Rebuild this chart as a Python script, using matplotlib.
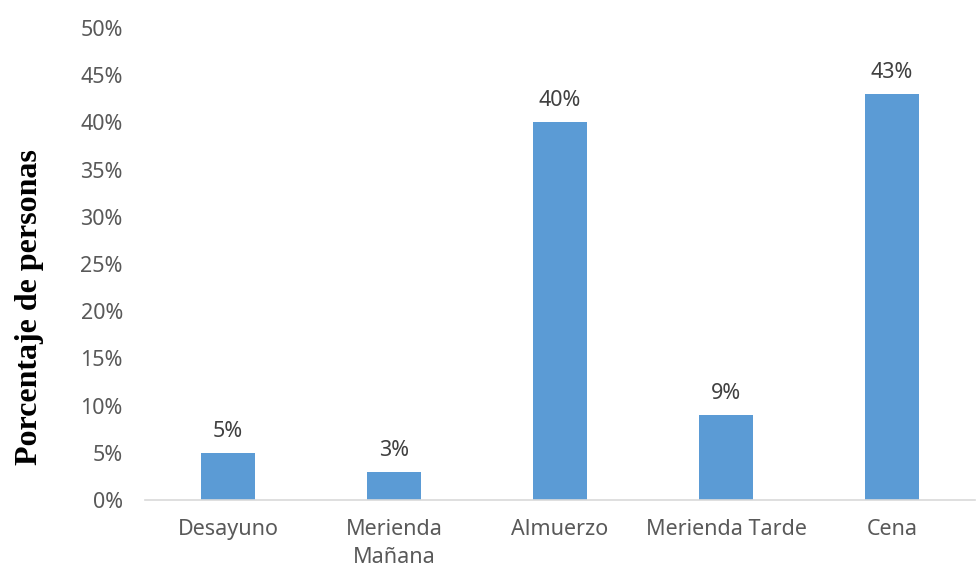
import matplotlib
matplotlib.use("Agg")
import matplotlib.pyplot as plt
from matplotlib.ticker import FuncFormatter

categories = ["Desayuno", "Merienda\nMañana", "Almuerzo", "Merienda Tarde", "Cena"]
values = [5, 3, 40, 9, 43]
yticks = [0, 5, 10, 15, 20, 25, 30, 35, 40, 45, 50]

text_color = "#595959"
bar_color = "#5B9BD5"

plt.rcParams["font.family"] = ["Noto Sans", "DejaVu Sans"]

fig = plt.figure(figsize=(9.76, 5.70), dpi=100)
ax = fig.add_axes([145 / 976, 1 - 500 / 570, 830 / 976, 472 / 570])

x = list(range(len(categories)))
bars = ax.bar(x, values, width=0.32, color=bar_color, zorder=2)

for xi, v in zip(x, values):
    ax.annotate(f"{v}%", (xi, v), xytext=(0, 8), textcoords="offset points",
                ha="center", va="bottom", fontsize=15.5, color="#404040")

ax.set_xlim(-0.5, len(categories) - 0.5)
ax.set_ylim(0, 50)
ax.set_yticks(yticks)
ax.yaxis.set_major_formatter(FuncFormatter(lambda v, p: f"{v:.0f}%"))
ax.set_xticks(x)
ax.set_xticklabels(categories, linespacing=1.4)

ax.tick_params(axis="both", length=0, labelsize=15.5, labelcolor=text_color)
ax.tick_params(axis="y", pad=16)
ax.tick_params(axis="x", pad=14)

for s in ["top", "right", "left"]:
    ax.spines[s].set_visible(False)
ax.spines["bottom"].set_color("#D9D9D9")
ax.spines["bottom"].set_linewidth(1.2)

ax.set_ylabel("Porcentaje de personas", family=["Liberation Serif"],
              fontweight="bold", fontsize=23, color="black")
ax.yaxis.set_label_coords(-101 / 830, (500 - 307) / 472)

fig.savefig("out.png", dpi=100)
